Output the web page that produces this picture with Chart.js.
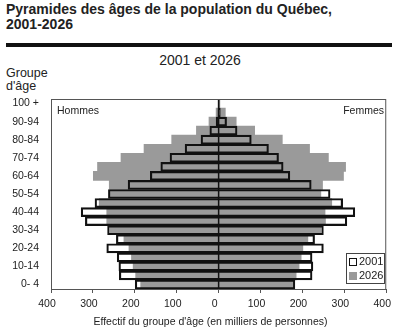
<!DOCTYPE html>
<html lang="fr">
<head>
<meta charset="UTF-8" />
<title>Pyramides des âges de la population du Québec, 2001-2026</title>
<script src="https://cdn.jsdelivr.net/npm/chart.js"></script>
<style>
  html, body { margin: 0; padding: 0; background: #fff; }
  body { width: 400px; height: 329px; position: relative; overflow: hidden;
         font-family: "Liberation Sans", Arial, sans-serif; color: #222; }
  .txt { position: absolute; white-space: nowrap; }
  #titre { left: 6px; top: 2px; font-weight: bold; font-size: 14px; line-height: 15px; }
  #regle { position: absolute; left: 6px; top: 43px; width: 386px; height: 4px; background: #111; }
  #sous { left: 0; width: 400px; top: 51px; text-align: center; font-size: 14px; line-height: 18px; }
  #groupe { left: 6px; top: 67px; font-size: 12.5px; line-height: 13px; }
  #axe { left: 0; width: 421px; top: 314px; text-align: center; font-size: 10.5px; line-height: 14px; }
  #hommes { left: 57px; top: 103px; font-size: 10.5px; line-height: 14px; }
  #femmes { right: 16px; top: 103px; font-size: 10.5px; line-height: 14px; }
  #legende { position: absolute; left: 346px; top: 253px; width: 37px; height: 29px;
             border: 1px solid #444; background: #fff; font-size: 11px; }
  #legende div { height: 14px; line-height: 14px; padding-left: 2px; }
  #legende span { display: inline-block; width: 6px; height: 6px; margin-right: 2px; vertical-align: -1px; }
  canvas { position: absolute; left: 0; top: 0; }
</style>
</head>
<body>
  <div id="titre" class="txt">Pyramides des âges de la population du Québec,<br>2001-2026</div>
  <div id="regle"></div>
  <div id="sous" class="txt">2001 et 2026</div>
  <div id="groupe" class="txt">Groupe<br>d'âge</div>
  <canvas id="pyramide" width="400" height="329"></canvas>
  <div id="hommes" class="txt">Hommes</div>
  <div id="femmes" class="txt">Femmes</div>
  <div id="legende"></div>
  <div id="axe" class="txt">Effectif du groupe d'âge (en milliers de personnes)</div>

<script>
  // groupes d'âge, du plus jeune au plus vieux
  const groupes = ["0- 4", "5- 9", "10-14", "15-19", "20-24", "25-29", "30-34", "35-39",
    "40-44", "45-49", "50-54", "55-59", "60-64", "65-69", "70-74", "75-79",
    "80-84", "85-89", "90-94", "95-99", "100 +"];

  // effectifs en milliers
  const hommes2001 = [199, 237, 238, 242, 267, 244, 265, 318, 328, 295, 263, 216, 163, 138, 116, 80, 42, 21, 6, 1.5, 0.3];
  const femmes2001 = [182, 223, 225, 223, 250, 229, 250, 306, 325, 296, 266, 221, 170, 154, 143, 119, 78, 44, 19, 4, 1];
  const hommes2026 = [186, 198, 204, 208, 214, 226, 259, 267, 267, 285, 258, 261, 299, 289, 233, 178, 112, 53, 23, 6, 1];
  const femmes2026 = [178, 185, 192, 197, 201, 213, 244, 255, 254, 270, 244, 248, 298, 303, 262, 217, 152, 86, 42, 16, 3];

  const annees = ["2001", "2026"];
  const couleurs = ["rgba(255,255,255,0)", "#9a9a9a"];
  const bordures = ["#111", "#9a9a9a"];

  // barres flottantes : de -hommes à +femmes
  const pyramide = (h, f) => h.map((v, i) => [-v, f[i]]);

  // cadre du graphique + ligne du zéro par-dessus les barres
  const cadre = {
    id: "cadre",
    afterDatasetsDraw(chart) {
      const { ctx, chartArea: a, scales } = chart;
      const x0 = scales.x.getPixelForValue(0);
      ctx.save();
      ctx.strokeStyle = "#111";
      ctx.lineWidth = 1.5;
      ctx.beginPath();
      ctx.moveTo(x0, a.top);
      ctx.lineTo(x0, a.bottom);
      ctx.stroke();
      ctx.strokeStyle = "#555";
      ctx.lineWidth = 1;
      ctx.strokeRect(a.left + 0.5, a.top + 0.5, a.right - a.left - 1, a.bottom - a.top);
      ctx.restore();
    }
  };

  new Chart(document.getElementById("pyramide"), {
    type: "bar",
    data: {
      labels: groupes,
      datasets: [
        {
          label: annees[0],
          data: pyramide(hommes2001, femmes2001),
          backgroundColor: couleurs[0],
          borderColor: bordures[0],
          borderWidth: 1.5,
          borderSkipped: false
        },
        {
          label: annees[1],
          data: pyramide(hommes2026, femmes2026),
          backgroundColor: couleurs[1],
          borderWidth: 0
        }
      ]
    },
    options: {
      responsive: false,
      animation: false,
      indexAxis: "y",
      layout: { padding: { top: 99, right: 10, left: 0, bottom: 0 } },
      datasets: { bar: { grouped: false, barPercentage: 1, categoryPercentage: 1 } },
      plugins: { legend: { display: false }, tooltip: { enabled: false } },
      scales: {
        x: {
          min: -400, max: 400,
          border: { display: false },
          grid: { drawOnChartArea: false, drawTicks: true, tickLength: 4, color: "#555" },
          ticks: {
            stepSize: 100, padding: 5, labelOffset: -4, color: "#222",
            font: { family: "'Liberation Sans', Arial, sans-serif", size: 10.5 },
            callback: v => Math.abs(v)
          },
          afterFit: s => { s.height = 40; }
        },
        y: {
          reverse: true,
          border: { display: false },
          grid: { display: false, drawTicks: false },
          ticks: {
            autoSkip: false, padding: 12, color: "#222",
            font: { family: "'Liberation Sans', Arial, sans-serif", size: 10.5 },
            callback: function (v, i) { return i % 2 === 0 ? this.getLabelForValue(v) : ""; }
          },
          afterFit: s => { s.width = 51; }
        }
      }
    },
    plugins: [cadre]
  });

  // légende dans le coin du graphique
  document.getElementById("legende").innerHTML = annees.map((a, i) =>
    `<div><span style="background:${i ? couleurs[1] : "#fff"};border:1px solid ${i ? couleurs[1] : "#111"}"></span>${a}</div>`
  ).join("");
</script>
</body>
</html>
